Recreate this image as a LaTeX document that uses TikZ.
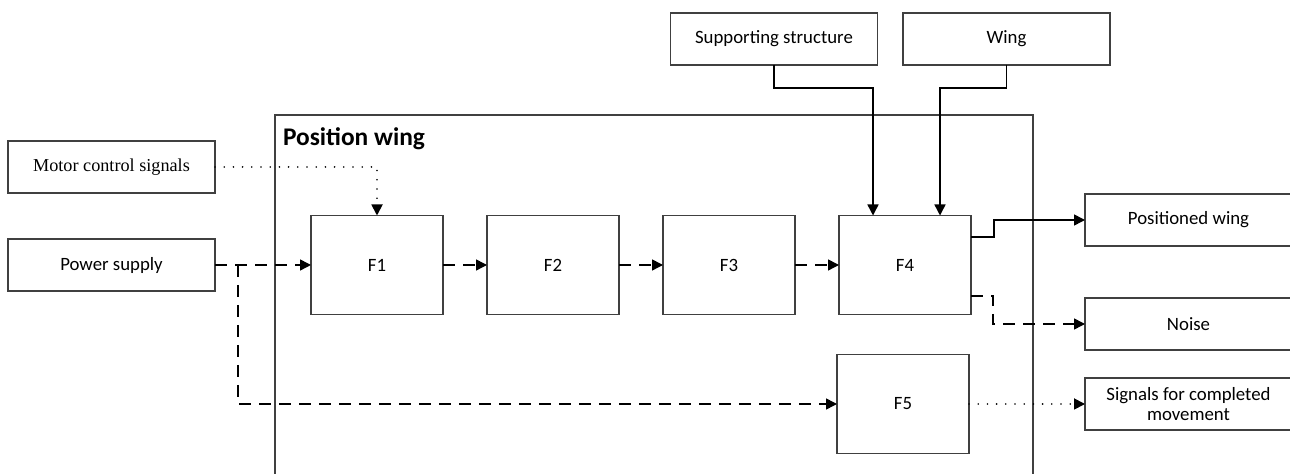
\documentclass[tikz,border=0pt]{standalone}
\usepackage{fontspec}
\setmainfont{Carlito}
\newfontfamily\timesfont{Liberation Serif}
\usetikzlibrary{arrows.meta}
\definecolor{boxline}{RGB}{64, 64, 64}

\tikzset{
  iobox/.style   = {draw=boxline, line width=0.6pt, inner sep=0pt, outer sep=0pt,
                    minimum width=103.5pt, minimum height=26pt, align=center,
                    font=\fontsize{9.4}{10}\selectfont},
  funcbox/.style = {draw=boxline, line width=0.6pt, inner sep=0pt, outer sep=0pt,
                    minimum width=66pt, minimum height=49.5pt,
                    font=\fontsize{9.4}{11}\selectfont},
  flow/.style    = {line width=0.75pt, -{Triangle[length=5.5pt, width=5.5pt]}},
  flowdash/.style= {flow, dash pattern=on 6pt off 4pt},
  flowdot/.style = {flow, line width=0.9pt, line cap=round, dash pattern=on 0pt off 4.6pt}
}

\begin{document}
\begin{tikzpicture}[x=0.5pt, y=-0.5pt]
            \useasboundingbox (0,0) rectangle (1290,474);
            % frame of the function
            \draw[color=boxline, line width=0.6pt] (275,115) rectangle (1033,500);
            \node[anchor=west, font=\fontsize{12.7}{14}\selectfont\bfseries] (title) at (276,139) {Position wing};
            % inputs
            \node[iobox, font=\timesfont\fontsize{9.1}{10}\selectfont] (mcs)     at ( 111.5, 167) {Motor control signals};
            \node[iobox]                                              (power)   at ( 111.5, 265) {Power supply};
            \node[iobox]                                              (support) at ( 774,   39) {Supporting structure};
            \node[iobox]                                              (wing)    at (1006.5, 39) {Wing};
            % outputs
            \node[iobox]                                              (posd)    at (1188.5, 220) {Positioned wing};
            \node[iobox]                                              (noise)   at (1188.5, 324) {Noise};
            \node[iobox]                                              (sigdone) at (1188.5, 404) {Signals for completed\\movement};
            % sub-functions
            \node[funcbox] (f1) at (377, 265) {F1};
            \node[funcbox] (f2) at (553, 265) {F2};
            \node[funcbox] (f3) at (729, 265) {F3};
            \node[funcbox] (f4) at (905, 265) {F4};
            \node[funcbox] (f5) at (903, 404) {F5};
            % connectors
            \coordinate (split) at (238, 265);
            \draw[flowdot]  (mcs.east) -| (f1.north);
            \draw[flowdash] (power) -- (f1);
            \draw[flowdash] (split) |- (f5.west);
            \draw[flowdash] (f1) -- (f2);
            \draw[flowdash] (f2) -- (f3);
            \draw[flowdash] (f3) -- (f4);
            \draw[flow]     (support.south) -- ++(0,23) -| ([xshift=-16pt]f4.north);
            \draw[flow]     (wing.south) -- ++(0,23) -| ([xshift=17.5pt]f4.north);
            \draw[flow]     ([yshift=14pt]f4.east) -- ++(23,0) |- (posd.west);
            \draw[flowdash] ([yshift=-15.5pt]f4.east) -- ++(22,0) |- (noise.west);
            \draw[flowdot]  (f5) -- (sigdone);
        \end{tikzpicture}
\end{document}
